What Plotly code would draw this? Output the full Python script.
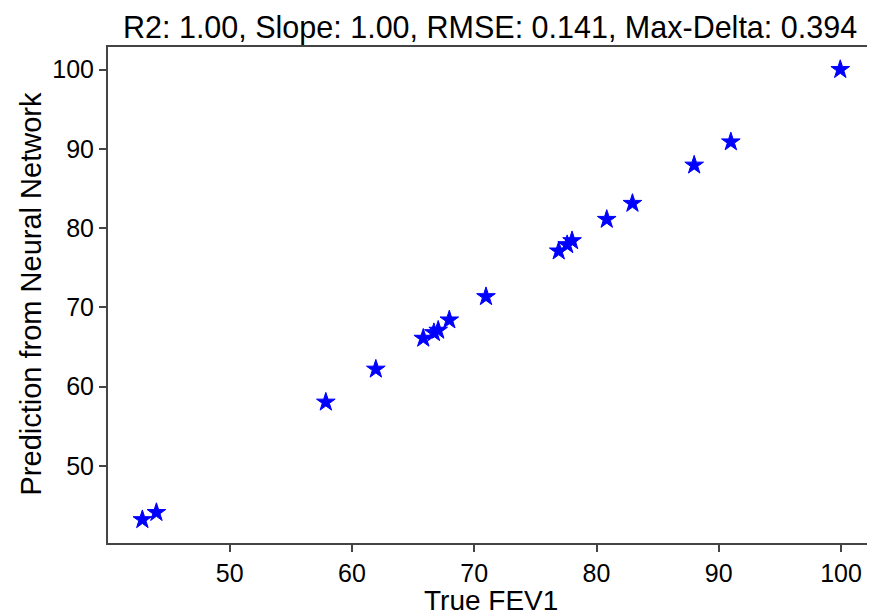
import plotly.graph_objects as go

true_fev1 = [42.85, 44.0, 57.86, 61.95, 65.83, 66.7, 67.05, 67.96, 70.96,
             76.91, 77.6, 78.0, 80.84, 82.94, 87.99, 90.99, 99.94]
predicted = [43.2, 44.1, 58.03, 62.19, 66.09, 66.8, 67.1, 68.4, 71.34,
             77.1, 77.9, 78.4, 81.09, 83.11, 87.94, 90.87, 100.0]

title_text = "R2: 1.00, Slope: 1.00, RMSE: 0.141, Max-Delta: 0.394"
x_title = "True FEV1"
y_title = "Prediction from Neural Network"
tick_vals = [50, 60, 70, 80, 90, 100]

FONT = "Liberation Sans, Arial, sans-serif"
OFF = 8  # default page body margin
W, H = 875 - OFF, 615 - OFF
L, R, T, B = 108 - OFF, 874 - OFF, 47 - OFF, 543 - OFF


def px(xp):
    return (xp - OFF - L) / (R - L)


def py(yp):
    return (B - (yp - OFF)) / (B - T)


fig = go.Figure()
fig.add_trace(go.Scatter(
    x=true_fev1, y=predicted, mode="markers",
    marker=dict(symbol="star", size=14, color="#0000ff",
                line=dict(color="#0000ff", width=1)),
    showlegend=False,
))

axis_common = dict(
    showline=True, mirror=True, linecolor="#444444", linewidth=2,
    ticks="outside", ticklen=7, tickwidth=2, tickcolor="#444444",
    showgrid=False, zeroline=False, automargin=False,
    tickfont=dict(family=FONT, size=25, color="#000000"),
    tickvals=tick_vals,
)

fig.update_layout(
    width=W, height=H,
    paper_bgcolor="white", plot_bgcolor="white",
    margin=dict(l=L, r=W - R, t=T, b=H - B),
    xaxis=dict(range=[40.04, 102.7], **axis_common),
    yaxis=dict(range=[40.26, 102.85], **axis_common),
    annotations=[
        dict(text=title_text, xref="paper", yref="paper",
             x=px(490), y=py(27),
             xanchor="center", yanchor="middle", showarrow=False,
             font=dict(family=FONT, size=30.5, color="#000000")),
        dict(text=x_title, xref="paper", yref="paper",
             x=px(491), y=py(600),
             xanchor="center", yanchor="middle", showarrow=False,
             font=dict(family=FONT, size=28, color="#000000")),
        dict(text=y_title, xref="paper", yref="paper",
             x=px(30), y=py(294.5),
             xanchor="center", yanchor="middle", showarrow=False, textangle=-90,
             font=dict(family=FONT, size=29, color="#000000")),
    ],
)

fig.write_html("out.html")
